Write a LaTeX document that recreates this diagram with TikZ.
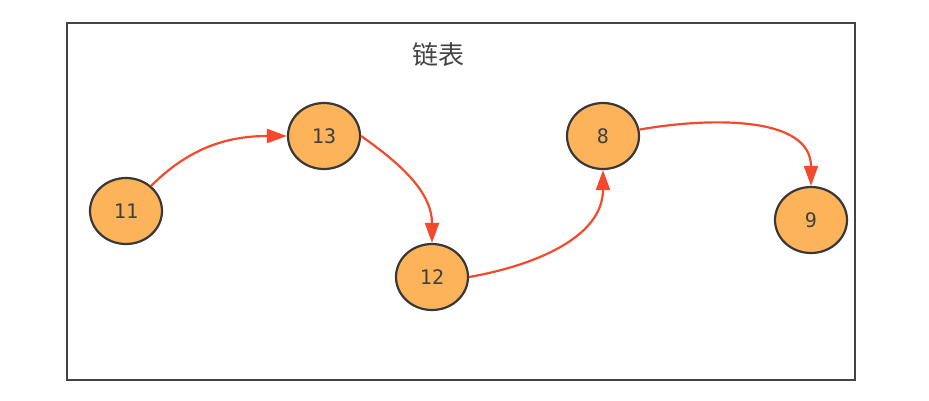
\documentclass[tikz,border=0pt]{standalone}
\usepackage{fontspec}
\newfontfamily\cjk{Noto Sans CJK SC}
\newfontfamily\numfont{DejaVu Sans Mono}
\usetikzlibrary{shapes.geometric,arrows.meta}
\definecolor{nodefill}{HTML}{FDB35A}
\definecolor{nodeline}{HTML}{383838}
\definecolor{edgecol}{HTML}{F4492C}
\definecolor{framecol}{HTML}{444444}
\definecolor{titlecol}{HTML}{444444}
\tikzset{
  lnode/.style={ellipse, draw=nodeline, line width=2.2pt, fill=nodefill,
    minimum width=72pt, minimum height=66pt, inner sep=0pt,
    font=\numfont\fontsize{20}{20}\selectfont, text=black!75},
  link/.style={draw=edgecol, line width=2.2pt,
    -{Triangle[length=20pt,width=14pt]}},
}
\begin{document}
\begin{tikzpicture}[x=1pt,y=-1pt]
\useasboundingbox (0,0) rectangle (929,400);
\fill[white] (0,0) rectangle (929,400);
\draw[framecol, line width=2.6pt] (67,23) rectangle (855,380);
\node[font=\cjk\fontsize{26}{26}\selectfont, text=titlecol] (title) at (438,55) {链表};
\node[lnode] (n11) at (126,211) {11};
\node[lnode] (n13) at (324,136) {13};
\node[lnode] (n12) at (432,277) {12};
\node[lnode] (n8) at (603,136) {8};
\node[lnode] (n9) at (811,220) {9};
\draw[link] (n11.45) to[out=45,in=180] (n13.west);
\draw[link] (n13.east) to[out=-35,in=90] (n12.north);
\draw[link] (n12.east) to[out=10,in=-90] (n8.south);
\draw[link] (n8.10) to[out=10,in=90] (n9.north);
\end{tikzpicture}
\end{document}
